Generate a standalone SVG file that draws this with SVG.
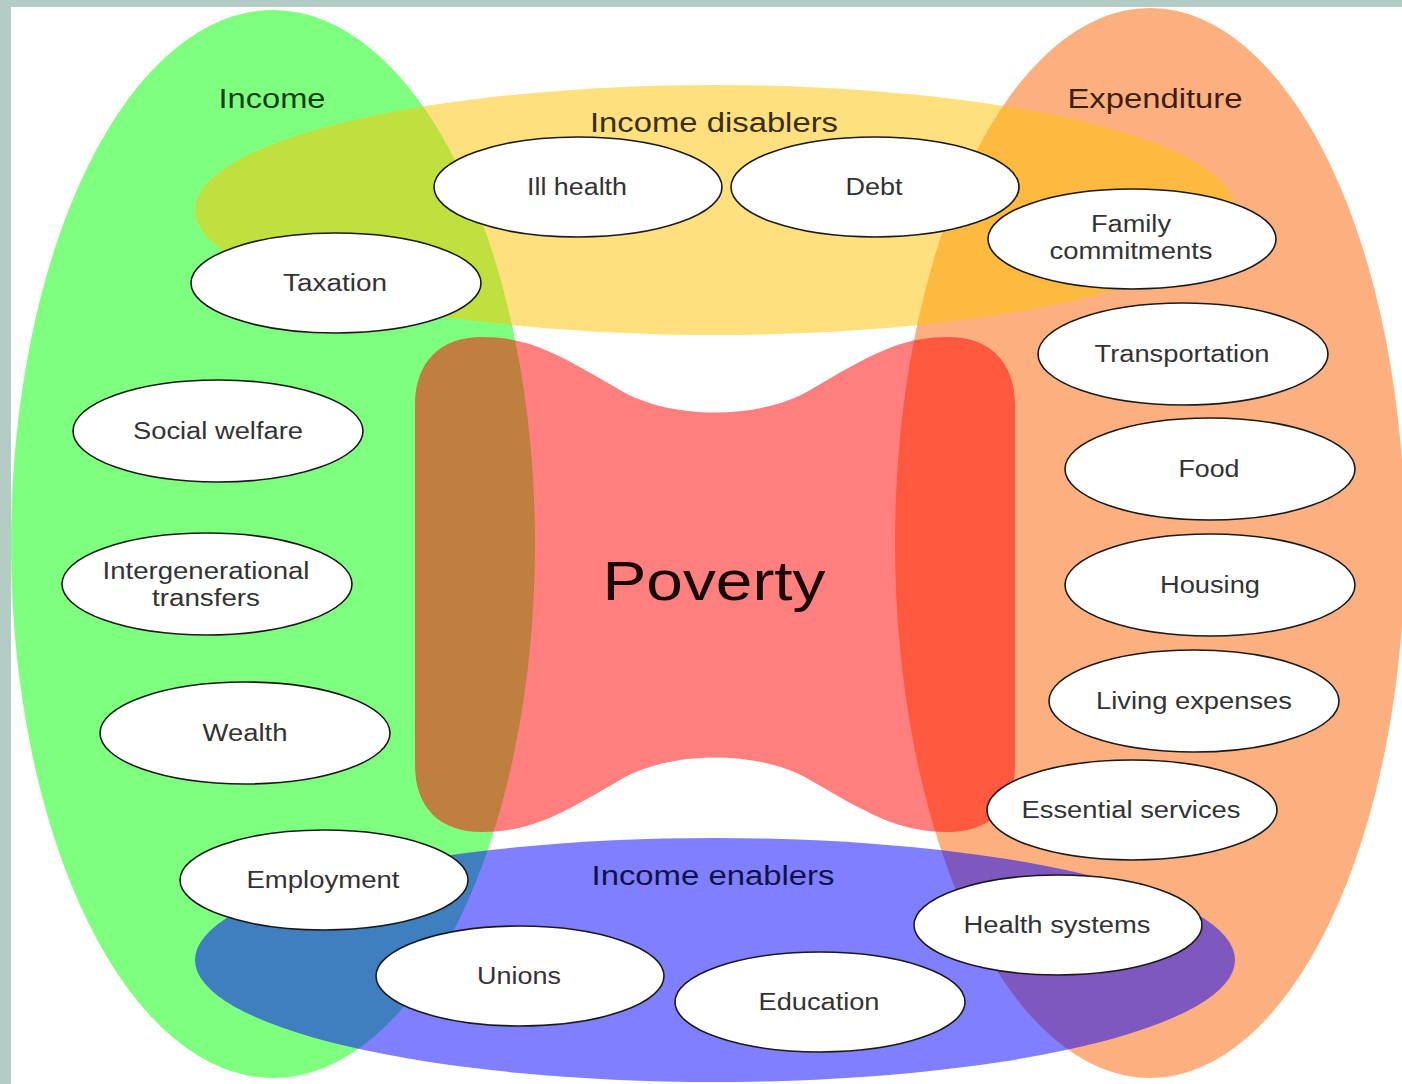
<svg xmlns="http://www.w3.org/2000/svg" width="1402" height="1084" viewBox="0 0 1402 1084">
<style>
text{font-family:"Liberation Sans",Arial,sans-serif;text-anchor:middle}
.n ellipse{fill:#fff;stroke:#1a1a1a;stroke-width:1.6}
.n text{font-size:23px;fill:#333}
.t{font-size:27px}
</style>
<rect x="0" y="0" width="1402" height="1084" fill="#b4ccc6"/>
<rect x="11" y="7" width="1391" height="1077" fill="#fff"/>
<g id="areas">
<ellipse id="income-area" cx="273" cy="544" rx="262" ry="534" fill="rgb(0,255,0)" fill-opacity="0.5"/>
<ellipse id="expenditure-area" cx="1150" cy="543" rx="255" ry="535" fill="rgb(252,98,0)" fill-opacity="0.5"/>
<ellipse id="disablers-area" cx="715" cy="210" rx="520" ry="125" fill="rgb(255,193,0)" fill-opacity="0.5"/>
<ellipse id="enablers-area" cx="715" cy="960" rx="520" ry="122" fill="rgb(0,0,255)" fill-opacity="0.5"/>
<path id="poverty-area" d="M415 405 C415 362 440 337 482 337 C530 337 560 355 620 390 C670 420 760 420 810 390 C870 355 900 337 948 337 C990 337 1015 362 1015 405 L1015 765 C1015 808 990 832 948 832 C900 832 870 815 810 780 C760 750 670 750 620 780 C560 815 530 832 482 832 C440 832 415 808 415 765 Z" fill="rgb(255,0,0)" fill-opacity="0.5"/>
</g>
<g id="titles">
<text class="t" x="272" y="108" fill="#163d16" textLength="107" lengthAdjust="spacingAndGlyphs">Income</text>
<text class="t" x="1155" y="108" fill="#3d1f0f" textLength="175" lengthAdjust="spacingAndGlyphs">Expenditure</text>
<text class="t" x="714" y="132" fill="#3a2e10" textLength="248" lengthAdjust="spacingAndGlyphs">Income disablers</text>
<text class="t" x="713" y="885" fill="#10124a" textLength="243" lengthAdjust="spacingAndGlyphs">Income enablers</text>
<text x="714" y="600" font-size="56" fill="#1a0505" textLength="223" lengthAdjust="spacingAndGlyphs">Poverty</text>
</g>
<g id="connectors"/>
<g id="ill-health" class="n"><ellipse cx="578" cy="187" rx="144" ry="50"/><text x="577" y="195" textLength="100" lengthAdjust="spacingAndGlyphs">Ill health</text></g>
<g id="debt" class="n"><ellipse cx="875" cy="187" rx="144" ry="50"/><text x="874" y="195" textLength="57" lengthAdjust="spacingAndGlyphs">Debt</text></g>
<g id="family-commitments" class="n"><ellipse cx="1132" cy="239" rx="144" ry="50"/><text x="1131" y="232" textLength="80" lengthAdjust="spacingAndGlyphs">Family</text><text x="1131" y="259" textLength="163" lengthAdjust="spacingAndGlyphs">commitments</text></g>
<g id="taxation" class="n"><ellipse cx="336" cy="283" rx="145" ry="50"/><text x="335" y="291" textLength="104" lengthAdjust="spacingAndGlyphs">Taxation</text></g>
<g id="social-welfare" class="n"><ellipse cx="218" cy="431" rx="145" ry="51"/><text x="218" y="439" textLength="170" lengthAdjust="spacingAndGlyphs">Social welfare</text></g>
<g id="intergenerational-transfers" class="n"><ellipse cx="207" cy="584" rx="145" ry="51"/><text x="206" y="579" textLength="207" lengthAdjust="spacingAndGlyphs">Intergenerational</text><text x="206" y="606" textLength="108" lengthAdjust="spacingAndGlyphs">transfers</text></g>
<g id="wealth" class="n"><ellipse cx="245" cy="733" rx="145" ry="51"/><text x="245" y="741" textLength="85" lengthAdjust="spacingAndGlyphs">Wealth</text></g>
<g id="employment" class="n"><ellipse cx="324" cy="880" rx="144" ry="50"/><text x="323" y="888" textLength="153" lengthAdjust="spacingAndGlyphs">Employment</text></g>
<g id="transportation" class="n"><ellipse cx="1183" cy="354" rx="145" ry="51"/><text x="1182" y="362" textLength="175" lengthAdjust="spacingAndGlyphs">Transportation</text></g>
<g id="food" class="n"><ellipse cx="1210" cy="469" rx="145" ry="51"/><text x="1209" y="477" textLength="61" lengthAdjust="spacingAndGlyphs">Food</text></g>
<g id="housing" class="n"><ellipse cx="1210" cy="585" rx="145" ry="51"/><text x="1210" y="593" textLength="100" lengthAdjust="spacingAndGlyphs">Housing</text></g>
<g id="living-expenses" class="n"><ellipse cx="1194" cy="701" rx="145" ry="51"/><text x="1194" y="709" textLength="196" lengthAdjust="spacingAndGlyphs">Living expenses</text></g>
<g id="essential-services" class="n"><ellipse cx="1132" cy="810" rx="145" ry="50"/><text x="1131" y="818" textLength="219" lengthAdjust="spacingAndGlyphs">Essential services</text></g>
<g id="health-systems" class="n"><ellipse cx="1058" cy="925" rx="144" ry="50"/><text x="1057" y="933" textLength="187" lengthAdjust="spacingAndGlyphs">Health systems</text></g>
<g id="unions" class="n"><ellipse cx="520" cy="976" rx="144" ry="50"/><text x="519" y="984" textLength="84" lengthAdjust="spacingAndGlyphs">Unions</text></g>
<g id="education" class="n"><ellipse cx="820" cy="1002" rx="145" ry="50"/><text x="819" y="1010" textLength="121" lengthAdjust="spacingAndGlyphs">Education</text></g>
</svg>
